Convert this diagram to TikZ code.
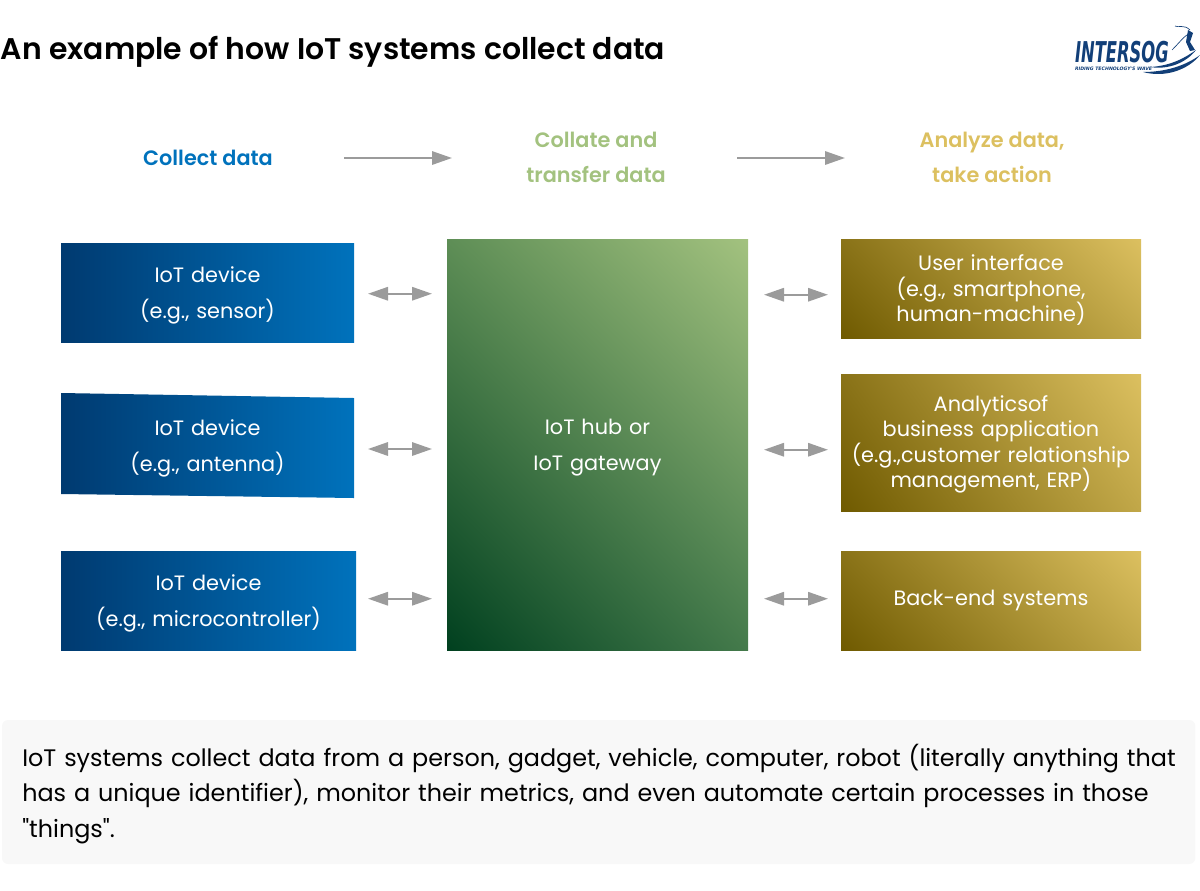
\documentclass[tikz,border=0pt]{standalone}
\usepackage{fontspec}
\setmainfont{Poppins}
\newfontfamily\headfont{Poppins SemiBold}
\newfontfamily\notefont{Poppins}
\newfontfamily\logofont{DejaVu Sans}
\usetikzlibrary{arrows.meta,shadings}
\definecolor{bluedark}{HTML}{003A70}
\definecolor{bluelight}{HTML}{0072BC}
\definecolor{greendark}{HTML}{00401F}
\definecolor{greenul}{HTML}{5E8E56}
\definecolor{greenlr}{HTML}{447A4B}
\definecolor{greenlight}{HTML}{A3C27F}
\definecolor{golddark}{HTML}{6F5A00}
\definecolor{goldul}{HTML}{8A7318}
\definecolor{goldlr}{HTML}{C1A748}
\definecolor{goldlight}{HTML}{DCC060}
\definecolor{arrowgray}{HTML}{9B9B9B}
\definecolor{panelgray}{HTML}{F8F8F8}
\definecolor{logoblue}{HTML}{123F78}
\begin{document}
\begin{tikzpicture}[x=0.75pt,y=-0.75pt,
  every node/.style={inner sep=0pt,outer sep=0pt,align=center},
  bodytext/.style={text=white,text width=210pt,font=\fontsize{15.6}{27}\selectfont,execute at begin node={\rule{0pt}{15.2pt}}},
  tighttext/.style={text=white,text width=220pt,font=\fontsize{15.6}{19.1}\selectfont,execute at begin node={\rule{0pt}{14pt}}},
  headtext/.style={font=\headfont\fontsize{15.6}{26.3}\selectfont},
  devbox/.style={bodytext,anchor=north west,left color=bluedark,right color=bluelight},
  hubbox/.style={bodytext,anchor=north west,shading=bilinear interpolation,lower left=greendark,upper right=greenlight,upper left=greenul,lower right=greenlr},
  appbox/.style={tighttext,anchor=north west,shading=bilinear interpolation,lower left=golddark,upper right=goldlight,upper left=goldul,lower right=goldlr},
  flow/.style={draw=arrowgray,line width=1.6pt,-{Triangle[length=15pt,width=10pt,fill=arrowgray]}},
  biflow/.style={draw=arrowgray,line width=1.6pt,{Triangle[length=15pt,width=10pt,fill=arrowgray]}-{Triangle[length=15pt,width=10pt,fill=arrowgray]}}]
\useasboundingbox (0,0) rectangle (1200,890);
\node [anchor=west,font=\fontsize{22.4}{25}\selectfont\headfont] (title) at (1,52) {An example of how IoT systems collect data};

\node [headtext,text=bluelight,minimum width=204pt] (collect) at (208,158) {Collect data};
\node [headtext,text=greenlight,minimum width=216pt] (collate) at (596,157) {Collate and\\transfer data};
\node [headtext,text=goldlight,minimum width=220.5pt] (analyze) at (992,157) {Analyze data,\\take action};
\draw [flow] (collect.east) -- (collect.east -| collate.west);
\draw [flow,shorten <=-2.25pt] ([yshift=-0.75pt]collate.east) -- ([yshift=-0.75pt]analyze.west);

\node [devbox,minimum width=219.75pt,minimum height=74.6pt] (dev1) at (61,243) {IoT device\\(e.g., sensor)};
\shade [left color=bluedark,right color=bluelight] (61,393) -- (354,398) -- (354,498) -- (61,494) -- cycle;
\node [bodytext,text=white,minimum width=219.75pt,minimum height=75pt] (dev2) at (207.5,446) {IoT device\\(e.g., antenna)};
\node [devbox,minimum width=221.25pt,minimum height=74.6pt] (dev3) at (61,551) {IoT device\\(e.g., microcontroller)};
\node [hubbox,minimum width=225.75pt,minimum height=308.6pt,execute at begin node={\rule{0pt}{16pt}}] (hub) at (447,239) {IoT hub or\\IoT gateway};
\node [appbox,minimum width=225pt,minimum height=74.6pt] (ui) at (841,239) {User interface\\(e.g., smartphone,\\human-machine)};
\node [appbox,minimum width=225pt,minimum height=103.1pt] (app) at (841,374) {Analyticsof\\business application\\(e.g.,customer relationship\\management, ERP)};
\node [appbox,minimum width=225pt,minimum height=74.6pt,execute at begin node={\rule[-6.3pt]{0pt}{6.3pt}}] (backend) at (841,551) {Back-end systems};

\draw [biflow,shorten <=10.5pt,shorten >=11.25pt] ([yshift=-0.75pt]dev1.east) -- ([yshift=-0.75pt]dev1.east -| hub.west);
\draw [biflow,shorten <=10.5pt,shorten >=11.25pt] ([yshift=-2.25pt]dev2.east) -- ([yshift=-2.25pt]dev2.east -| hub.west);
\draw [biflow,shorten <=9pt,shorten >=11.25pt] ([yshift=1.5pt]dev3.east) -- ([yshift=1.5pt]dev3.east -| hub.west);
\draw [biflow,shorten <=12pt,shorten >=9.75pt] ([yshift=-4.5pt]ui.west -| hub.east) -- ([yshift=-4.5pt]ui.west);
\draw [biflow,shorten <=12pt,shorten >=9.75pt] ([yshift=-5.25pt]app.west -| hub.east) -- ([yshift=-5.25pt]app.west);
\draw [biflow,shorten <=12pt,shorten >=9.75pt] ([yshift=1.5pt]backend.west -| hub.east) -- ([yshift=1.5pt]backend.west);

\node [anchor=north west,fill=panelgray,rounded corners=4.5pt,minimum width=894.75pt,minimum height=108pt,text width=875pt,inner xsep=10pt,align=left,font=\notefont\fontsize{17.9}{26.6}\selectfont,execute at begin node={\hspace*{5.2pt}\rule{0pt}{19.5pt}}] (note) at (2,720) {IoT systems collect data from a person, gadget, vehicle, computer, robot (literally anything that\\\hspace*{5.2pt}has a unique identifier), monitor their metrics, and even automate certain processes in those\\\hspace*{5.2pt}"things".};

\node [anchor=west,text=logoblue,font=\logofont\bfseries\itshape\fontsize{21.5}{22}\selectfont,xscale=0.57,transform shape] (logoname) at (1075,52) {INTERSOG};
\node [anchor=west,text=logoblue,font=\logofont\bfseries\itshape\fontsize{3.5}{4}\selectfont] (logotag) at (1075,69) {RIDING TECHNOLOGY'S WAVE};
\fill [logoblue] (1143,72) .. controls (1165,72) and (1185,66) .. (1200,55) .. controls (1188,70) and (1165,78) .. (1143,72) -- cycle;
\fill [logoblue] (1150,67) .. controls (1168,66) and (1182,60) .. (1196,50) .. controls (1186,63) and (1168,70) .. (1150,67) -- cycle;
\fill [logoblue] (1188,30) -- (1193,33) -- (1190,42) -- (1195,50) -- (1190,51) -- (1186,42) -- cycle;
\draw [logoblue,line width=0.5pt] (1190,30) .. controls (1184,24) and (1178,28) .. (1175,26);
\draw [logoblue,line width=0.5pt] (1190,33) .. controls (1184,36) and (1180,42) .. (1172,50);
\end{tikzpicture}
\end{document}
